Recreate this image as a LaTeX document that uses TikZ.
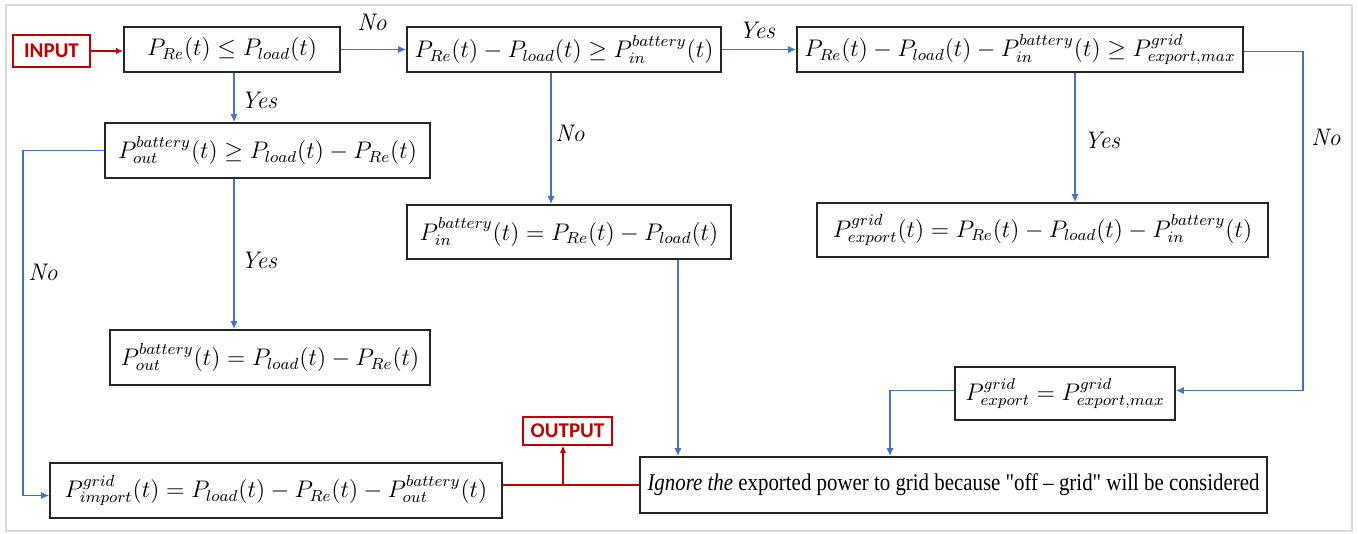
\documentclass[tikz,border=0pt]{standalone}
\usepackage{fontspec}
\newfontfamily\iofont{Carlito}
\newfontfamily\narrowserif[FakeStretch=0.87]{Liberation Serif}
\usetikzlibrary{arrows.meta}
\definecolor{flowblue}{RGB}{68,114,196}
\definecolor{flowred}{RGB}{192,0,0}
\definecolor{framegray}{RGB}{218,218,218}
\begin{document}
\begin{tikzpicture}[x=0.5pt, y=-0.5pt,
  box/.style={draw=black!85, line width=0.9pt, inner sep=1pt, font=\fontsize{12}{14}\selectfont},
  iobox/.style={draw=flowred, line width=0.8pt, text=flowred, inner sep=1pt, font=\iofont\bfseries\fontsize{10.5}{12}\selectfont},
  lbl/.style={font=\fontsize{12}{14}\selectfont\itshape, inner sep=1pt},
  flow/.style={draw=flowblue, line width=0.6pt, -{Latex[length=4pt,width=3.6pt]}},
  redflow/.style={draw=flowred, line width=0.9pt, -{Latex[length=3.5pt,width=3.2pt]}},
  redline/.style={draw=flowred, line width=1.1pt}]
\useasboundingbox (0,0) rectangle (1358,534);
\draw[framegray, line width=1pt] (6,5) rectangle (1352,531);

% column / helper coordinates
\coordinate (c23) at (23,0);
\coordinate (c234) at (234,0);
\coordinate (c551) at (551,0);
\coordinate (c678) at (678,0);
\coordinate (c890) at (890,0);
\coordinate (c1075) at (1075,0);
\coordinate (c1303) at (1303,0);
\coordinate (c563) at (563,0);

% nodes
\node[iobox, minimum width=38.5pt, minimum height=16pt] (in) at (51.5,51) {INPUT};
\node[box, minimum width=108pt, minimum height=22.5pt] (b1) at (232,49.5) {$P_{Re}(t) \le P_{load}(t)$};
\node[box, minimum width=157pt, minimum height=22.5pt] (b2) at (564,49.5) {$P_{Re}(t) - P_{load}(t) \ge P_{in}^{battery}(t)$};
\node[box, minimum width=223pt, minimum height=22.5pt] (b3) at (1020,49.5) {$P_{Re}(t) - P_{load}(t) - P_{in}^{battery}(t) \ge P_{export,max}^{grid}$};
\node[box, minimum width=162.5pt, minimum height=27.5pt] (b4) at (267.5,150.5) {$P_{out}^{battery}(t) \ge P_{load}(t) - P_{Re}(t)$};
\node[box, minimum width=160pt, minimum height=27.5pt] (b5) at (270,357.5) {$P_{out}^{battery}(t) = P_{load}(t) - P_{Re}(t)$};
\node[box, minimum width=162pt, minimum height=27pt] (b6) at (569,232) {$P_{in}^{battery}(t) = P_{Re}(t) - P_{load}(t)$};
\node[box, minimum width=225.5pt, minimum height=27pt] (b7) at (1042.5,230) {$P_{export}^{grid}(t) = P_{Re}(t) - P_{load}(t) - P_{in}^{battery}(t)$};
\node[box, minimum width=110pt, minimum height=26.5pt] (b8) at (1065,393.5) {$P_{export}^{grid} = P_{export,max}^{grid}$};
\node[box, minimum width=313.5pt, minimum height=28pt, font=\narrowserif\fontsize{12}{14}\selectfont] (b9) at (953.5,485) {\textit{Ignore the} exported power to grid because \symbol{34}off – grid\symbol{34} will be considered};
\node[box, minimum width=226pt, minimum height=27.5pt] (b10) at (276,490.5) {$P_{import}^{grid}(t) = P_{load}(t) - P_{Re}(t) - P_{out}^{battery}(t)$};
\node[iobox, minimum width=44.5pt, minimum height=14pt] (out) at (567.5,431) {OUTPUT};

% labels
\node[lbl] (l1) at (372,22) {No};
\node[lbl] (l2) at (757,30) {Yes};
\node[lbl] (l3) at (259,100) {Yes};
\node[lbl] (l4) at (259,260) {Yes};
\node[lbl] (l5) at (43,272) {No};
\node[lbl] (l6) at (570,133) {No};
\node[lbl] (l7) at (1102,140) {Yes};
\node[lbl] (l8) at (1326,137) {No};

% anchor helpers
\coordinate (b3e) at ([yshift=-1pt]b3.east);
\coordinate (b8e) at ([yshift=1.5pt]b8.east);
\coordinate (b8w) at ([yshift=1.5pt]b8.west);
\coordinate (b10w) at ([yshift=-2.5pt]b10.west);

% connectors
\draw[redflow] (in.east) -- (in.east -| b1.west);
\draw[flow] (b1.east) -- (b2.west);
\draw[flow] (b2.east) -- (b3.west);
\draw[flow] (c234 |- b1.south) -- (c234 |- b4.north);
\draw[flow] (c234 |- b4.south) -- (c234 |- b5.north);
\draw[flow] (b4.west) -- (c23 |- b4.west) |- (b10w);
\draw[flow] (c551 |- b2.south) -- (c551 |- b6.north);
\draw[flow] (c678 |- b6.south) -- (c678 |- b9.north);
\draw[flow] (c1075 |- b3.south) -- (c1075 |- b7.north);
\draw[flow] (b3e) -- (c1303 |- b3e) |- (b8e);
\draw[flow] (b8w) -| (c890 |- b9.north);
\draw[redline] (b10.east |- b9.west) -- (b9.west);
\draw[redflow] (c563 |- b9.west) -- (c563 |- out.south);
\end{tikzpicture}
\end{document}
